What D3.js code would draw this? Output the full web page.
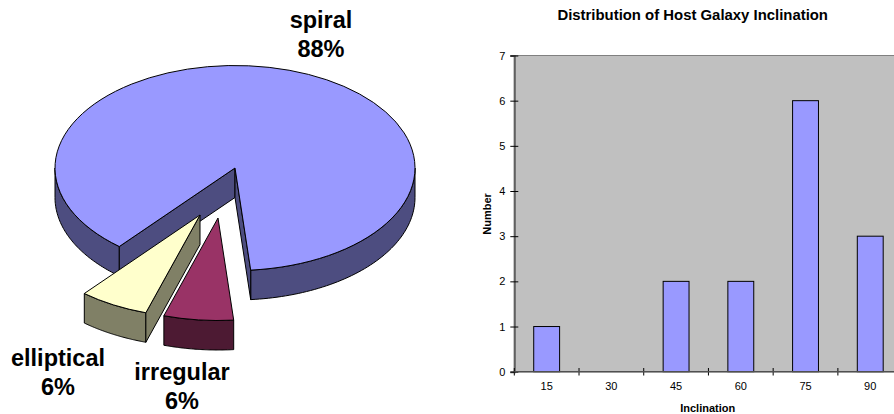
<!DOCTYPE html>
<html>
<head>
<meta charset="utf-8">
<script src="https://cdn.jsdelivr.net/npm/d3@7"></script>
<style>
  html, body { margin: 0; padding: 0; background: #fff; overflow: hidden; }
  text { font-family: "Liberation Sans", Arial, sans-serif; fill: #000; }
</style>
</head>
<body>
<svg id="chart" width="894" height="414"></svg>
<script>
// pie values (galaxy counts), clockwise order starting from the spiral slice
var types = ["spiral", "irregular", "elliptical"];
var typeValues = [14, 1, 1];
var typeLabels = ["88%", "6%", "6%"];

// bar chart values
var inclinations = ["15", "30", "45", "60", "75", "90"];
var counts = [1, 0, 2, 2, 6, 3];
var countTicks = [0, 1, 2, 3, 4, 5, 6, 7];

var svg = d3.select("#chart");

// ---- pie ----
var rx = 180, ry = 102.5, depth = 29.5;
var cx = 235, cy = 168;
var topColor = { spiral: "#9999ff", irregular: "#993366", elliptical: "#ffffcc" };
var sideColor = { spiral: "#4d4d80", irregular: "#4d1a33", elliptical: "#808066" };
var offset = { spiral: [0, 0], irregular: [-17, 50], elliptical: [-35, 47] };

var toRad = Math.PI / 180;
var pie = d3.pie().sort(null)
    .startAngle(220 * toRad)
    .endAngle((220 + 360) * toRad);
var slices = pie(typeValues);
slices.forEach(function(s, i) { s.name = types[i]; });

function rimPoint(a, dy) {
    return [rx * Math.sin(a), -ry * Math.cos(a) + dy];
}

var line = d3.line();

// outer wall between two angles, only the part facing the viewer
function wall(g, a0, a1, color) {
    var pts = [], n = 60;
    d3.range(n + 1).forEach(function(i) {
        pts.push(rimPoint(a0 + (a1 - a0) * i / n, 0));
    });
    d3.range(n + 1).forEach(function(i) {
        pts.push(rimPoint(a1 - (a1 - a0) * i / n, depth));
    });
    g.append("path").attr("d", line(pts) + "Z")
        .attr("fill", color).attr("stroke", "#000").attr("stroke-width", 1).attr("stroke-linejoin", "round");
}

// flat cut face going down from the edge centre -> rim
function cutFace(g, a, color) {
    var p = rimPoint(a, 0);
    var pts = [[0, 0], p, [p[0], p[1] + depth], [0, depth]];
    g.append("path").attr("d", line(pts) + "Z")
        .attr("fill", color).attr("stroke", "#000").attr("stroke-width", 1).attr("stroke-linejoin", "round");
}

var arc = d3.arc().innerRadius(0).outerRadius(rx);

// back to front: spiral first, then elliptical, irregular on top
["spiral", "elliptical", "irregular"].forEach(function(name) {
    var s = slices.filter(function(d) { return d.name == name; })[0];
    var g = svg.append("g")
        .attr("transform", "translate(" + (cx + offset[name][0]) + "," + (cy + offset[name][1]) + ")");

    if (name == "spiral") {
        wall(g, s.startAngle, 270 * toRad, sideColor[name]);
        wall(g, 450 * toRad, s.endAngle, sideColor[name]);
        cutFace(g, s.startAngle, sideColor[name]);
        cutFace(g, s.endAngle, sideColor[name]);
    } else {
        wall(g, s.startAngle, s.endAngle, sideColor[name]);
        if (name == "elliptical") cutFace(g, s.startAngle, sideColor[name]);
    }

    g.append("g").attr("transform", "scale(1," + (ry / rx) + ")")
        .append("path").attr("d", arc(s))
        .attr("fill", topColor[name])
        .attr("stroke", "#000").attr("stroke-width", 1)
        .attr("stroke-linejoin", "round")
        .attr("vector-effect", "non-scaling-stroke");
});

var labelPos = { spiral: [321, 28], elliptical: [58, 366], irregular: [182, 380] };
types.forEach(function(name, i) {
    var t = svg.append("text")
        .attr("text-anchor", "middle")
        .attr("font-weight", "bold")
        .attr("font-size", 23.5);
    t.append("tspan").attr("x", labelPos[name][0]).attr("y", labelPos[name][1]).text(name);
    t.append("tspan").attr("x", labelPos[name][0]).attr("y", labelPos[name][1] + 29).text(typeLabels[i]);
});

// ---- bars ----
var x = d3.scaleBand().domain(inclinations).range([514.3, 902.6]).paddingInner(0.6).paddingOuter(0.3);
var y = d3.scaleLinear().domain([0, 7]).range([371.7, 55.5]);
var xStep = x.step();

svg.append("rect")
    .attr("x", 514.3).attr("y", y(7))
    .attr("width", 388.3).attr("height", y(0) - y(7))
    .attr("fill", "#c0c0c0").attr("stroke", "#808080");

svg.selectAll(".bar").data(inclinations).enter()
    .append("rect").attr("class", "bar")
    .attr("x", function(d) { return x(d); })
    .attr("y", function(d, i) { return y(counts[i]); })
    .attr("width", x.bandwidth())
    .attr("height", function(d, i) { return y(0) - y(counts[i]); })
    .attr("fill", "#9999ff")
    .attr("stroke", function(d, i) { return counts[i] > 0 ? "#000" : "none"; });

var yAxis = d3.axisLeft(y).tickValues(countTicks).tickFormat(d3.format("d")).tickSize(4).tickPadding(5);
var yg = svg.append("g").attr("transform", "translate(514.3,0)").call(yAxis);
yg.select(".domain").attr("stroke", "#606060").attr("stroke-width", 2);
yg.selectAll(".tick line").attr("x2", 4).attr("x1", -4).attr("stroke", "#000");
yg.selectAll("text").attr("font-size", 11).style("font-family", "Liberation Sans");

var xAxis = d3.axisBottom(x).tickSize(0).tickPadding(11);
var xg = svg.append("g").attr("transform", "translate(0,371.7)").call(xAxis);
xg.select(".domain").remove();
xg.selectAll("text").attr("font-size", 11).style("font-family", "Liberation Sans");

// tick marks sit between the categories
d3.range(inclinations.length + 1).forEach(function(i) {
    var px = 514.3 + i * xStep;
    svg.append("line")
        .attr("x1", px).attr("x2", px)
        .attr("y1", 368).attr("y2", 375.5)
        .attr("stroke", "#000");
});
svg.append("line").attr("x1", 514.3).attr("x2", 902.6).attr("y1", y(0)).attr("y2", y(0))
    .attr("stroke", "#505050").attr("stroke-width", 1.5);

svg.append("text").attr("x", 692.7).attr("y", 19.5)
    .attr("text-anchor", "middle").attr("font-weight", "bold").attr("font-size", 14.9)
    .text("Distribution of Host Galaxy Inclination");
svg.append("text").attr("x", 707.7).attr("y", 412)
    .attr("text-anchor", "middle").attr("font-weight", "bold").attr("font-size", 11)
    .text("Inclination");
svg.append("text")
    .attr("transform", "translate(490.5,214) rotate(-90)")
    .attr("text-anchor", "middle").attr("font-weight", "bold").attr("font-size", 11)
    .text("Number");
</script>
</body>
</html>
